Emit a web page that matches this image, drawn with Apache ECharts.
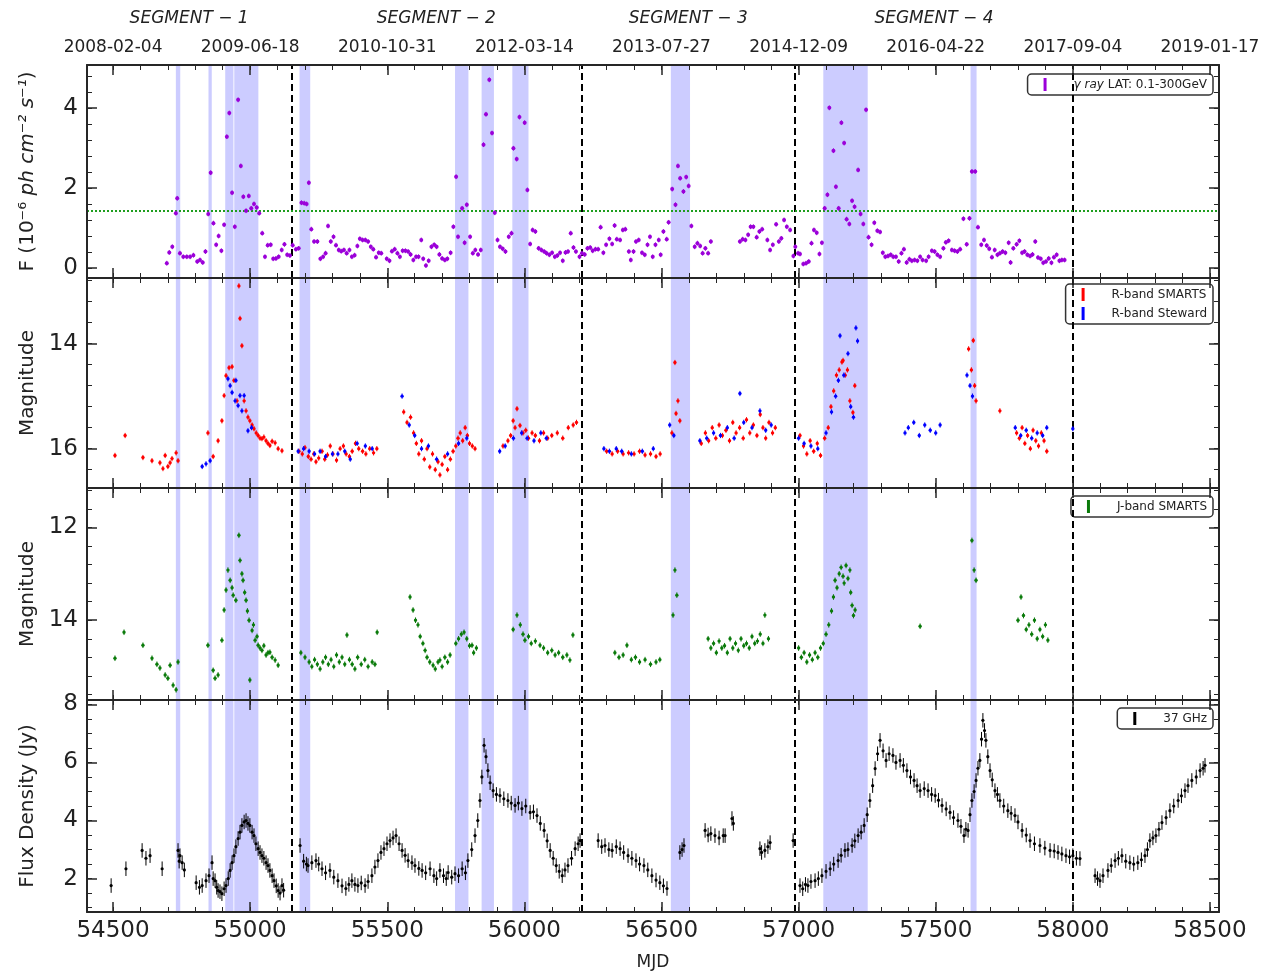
<!DOCTYPE html>
<html>
<head>
<meta charset="utf-8">
<script src="https://cdn.jsdelivr.net/npm/echarts@6/dist/echarts.min.js"></script>
<style>
  html, body { margin: 0; padding: 0; background: #fff; }
  #main { width: 1264px; height: 978px; }
</style>
</head>
<body>
<div id="main"></div>
<script>
// x range (MJD) and tick labels
const xMin = 54405;
const xMax = 58533;
const majorX = [54500, 55000, 55500, 56000, 56500, 57000, 57500, 58000, 58500];
const topDates = ['2008-02-04', '2009-06-18', '2010-10-31', '2012-03-14', '2013-07-27',
  '2014-12-09', '2016-04-22', '2017-09-04', '2019-01-17'];
const segNames = ['SEGMENT \u2212 1', 'SEGMENT \u2212 2', 'SEGMENT \u2212 3', 'SEGMENT \u2212 4'];
const segEdges = [54405, 55150, 56208, 56987, 58000];
const dashedX = [55150, 56208, 56987, 58000];
const shadeRanges = [[54729, 54745], [54848, 54860], [54909, 54939], [54942, 55030], [55180, 55219],
  [55747, 55796], [55844, 55889], [55956, 56015], [56534, 56604], [57090, 57252], [57627, 57649]];
const gammaThreshold = 1.42;

// gamma-ray flux (1e-6 ph cm-2 s-1)
const gammaData = [
  [54696,0.12],[54705,0.39],[54716,0.53],[54729,1.37],[54734,1.74],[54744,0.37],[54756,0.28],[54769,0.28],
  [54781,0.28],[54793,0.32],[54807,0.16],[54817,0.2],[54827,0.14],[54837,0.41],[54847,1.35],[54856,2.38],
  [54866,1.12],[54876,0.58],[54885,0.8],[54895,0.43],[54905,1.08],[54915,3.28],[54924,3.87],[54934,1.88],
  [54944,1.03],[54956,4.2],[54966,2.55],[54975,1.78],[54985,1.43],[54995,1.8],[55004,1.49],[55014,1.6],
  [55024,1.51],[55033,1.37],[55044,0.87],[55054,0.28],[55064,0.57],[55075,0.58],[55084,0.23],[55094,0.24],
  [55104,0.28],[55115,0.45],[55125,0.59],[55135,0.33],[55145,0.31],[55155,0.57],[55167,0.47],[55177,0.49],
  [55187,1.63],[55197,1.62],[55206,1.6],[55214,2.13],[55223,0.97],[55233,0.66],[55245,0.66],[55256,0.23],
  [55266,0.28],[55275,0.37],[55284,1.05],[55294,0.66],[55304,0.78],[55313,0.57],[55323,0.45],[55332,0.42],
  [55342,0.45],[55352,0.37],[55362,0.45],[55371,0.28],[55381,0.32],[55391,0.55],[55400,0.73],[55410,0.7],
  [55420,0.7],[55430,0.66],[55440,0.53],[55449,0.47],[55459,0.27],[55469,0.38],[55478,0.37],[55498,0.23],
  [55508,0.18],[55517,0.42],[55527,0.47],[55537,0.37],[55546,0.28],[55556,0.43],[55566,0.43],[55576,0.41],
  [55585,0.34],[55595,0.2],[55605,0.28],[55614,0.28],[55624,0.7],[55631,0.23],[55641,0.06],[55651,0.18],
  [55661,0.53],[55671,0.58],[55680,0.53],[55690,0.34],[55700,0.24],[55710,0.2],[55719,0.23],[55731,0.38],
  [55741,1.03],[55751,2.28],[55758,0.78],[55773,1.49],[55782,0.63],[55790,1.58],[55802,0.78],[55812,0.37],
  [55821,0.45],[55831,0.34],[55841,0.45],[55851,3.08],[55860,3.84],[55872,4.7],[55882,3.37],[55892,1.38],
  [55902,0.7],[55911,0.53],[55921,0.48],[55931,0.41],[55943,0.78],[55953,0.87],[55960,2.99],[55972,2.72],
  [55982,3.77],[56001,3.63],[56011,1.95],[56021,0.6],[56030,0.95],[56040,0.91],[56052,0.49],[56062,0.45],
  [56072,0.41],[56081,0.37],[56091,0.33],[56101,0.38],[56111,0.28],[56120,0.31],[56130,0.38],[56140,0.18],
  [56150,0.39],[56159,0.41],[56169,0.87],[56179,0.51],[56188,0.41],[56201,0.28],[56210,0.37],[56220,0.34],
  [56230,0.49],[56240,0.51],[56249,0.43],[56259,0.47],[56269,0.47],[56278,1.02],[56288,0.38],[56298,0.58],
  [56310,0.73],[56320,0.6],[56329,1.06],[56337,0.72],[56349,0.7],[56359,0.95],[56368,0.97],[56381,0.41],
  [56388,0.2],[56398,0.41],[56407,0.66],[56417,0.7],[56429,0.38],[56439,0.33],[56449,0.58],[56458,0.78],
  [56468,0.28],[56478,0.58],[56490,0.7],[56497,0.33],[56507,0.91],[56519,0.72],[56526,1.14],[56539,1.97],
  [56551,1.58],[56560,2.55],[56568,2.24],[56580,1.91],[56590,2.27],[56599,2.05],[56609,1.05],[56621,0.53],
  [56631,0.62],[56641,0.55],[56650,0.37],[56660,0.49],[56670,0.37],[56680,0.66],[56786,0.66],[56796,0.72],
  [56806,0.7],[56816,0.83],[56825,1.03],[56835,1.03],[56847,0.77],[56857,0.91],[56867,0.97],[56886,0.7],
  [56896,0.45],[56906,0.58],[56918,1.09],[56928,0.66],[56937,0.74],[56947,1.2],[56957,1.03],[56969,0.95],
  [56981,0.3],[56988,0.53],[56998,0.37],[57005,0.35],[57017,0.1],[57027,0.12],[57037,0.16],[57047,0.62],
  [57056,0.95],[57066,0.88],[57076,0.35],[57085,0.63],[57095,1.49],[57105,1.83],[57112,4.0],[57127,2.93],
  [57136,2.03],[57146,1.49],[57156,3.63],[57166,3.12],[57175,1.22],[57185,1.1],[57195,1.68],[57204,1.53],
  [57217,2.45],[57226,1.35],[57236,1.1],[57246,3.95],[57255,0.77],[57266,0.58],[57276,1.13],[57287,0.93],
  [57297,0.9],[57307,0.38],[57316,0.28],[57326,0.3],[57336,0.33],[57345,0.28],[57355,0.28],[57365,0.16],
  [57375,0.37],[57384,0.47],[57394,0.14],[57404,0.22],[57413,0.18],[57423,0.2],[57433,0.18],[57443,0.28],
  [57452,0.2],[57465,0.18],[57474,0.28],[57486,0.43],[57496,0.41],[57506,0.33],[57516,0.28],[57528,0.49],
  [57537,0.64],[57547,0.68],[57559,0.45],[57569,0.43],[57579,0.41],[57589,0.47],[57601,1.23],[57613,0.59],
  [57623,1.24],[57632,2.41],[57644,2.41],[57654,1.02],[57666,0.58],[57676,0.7],[57686,0.56],[57695,0.48],
  [57705,0.27],[57715,0.45],[57725,0.33],[57734,0.37],[57744,0.41],[57754,0.38],[57766,0.63],[57773,0.14],
  [57783,0.49],[57795,0.59],[57805,0.68],[57815,0.38],[57824,0.41],[57834,0.33],[57844,0.3],[57853,0.34],
  [57863,0.66],[57873,0.26],[57883,0.23],[57892,0.13],[57902,0.16],[57912,0.24],[57922,0.13],[57931,0.27],
  [57941,0.33],[57951,0.18],[57960,0.2],[57970,0.2]
];
const gammaErr = 0.06;

// R-band magnitudes
const smartsR = [
  [54507,16.13],[54544,15.75],[54609,16.17],[54642,16.23],[54671,16.27],[54682,16.38],[54690,16.13],[54700,16.34],
  [54708,16.27],[54715,16.19],[54730,16.08],[54737,16.23],[54846,15.7],[54865,16.15],[54883,15.85],[54897,15.47],
  [54905,14.99],[54912,14.61],[54923,14.46],[54934,14.44],[54941,14.7],[54952,15.09],[54959,12.9],[54963,13.52],
  [54970,14.04],[54978,15.09],[54985,15.28],[54992,15.4],[54999,15.47],[55007,15.55],[55014,15.62],[55022,15.7],
  [55029,15.75],[55036,15.8],[55043,15.81],[55050,15.78],[55058,15.85],[55065,15.9],[55072,15.94],[55080,15.86],
  [55091,15.89],[55102,16.0],[55116,16.04],
  [55178,16.05],[55190,16.1],[55200,15.98],[55212,16.15],[55222,16.2],[55232,16.1],[55240,16.25],[55250,16.18],
  [55262,16.05],[55272,16.2],[55282,16.12],[55292,15.95],[55302,16.1],[55315,16.22],[55328,16.0],[55340,15.95],
  [55350,16.1],[55362,16.15],[55372,16.05],[55384,15.9],[55396,16.0],[55410,16.05],[55422,16.1],[55436,16.0],
  [55450,16.08],[55462,16.0],[55560,15.3],[55572,15.5],[55585,15.4],[55596,15.7],[55606,15.9],[55615,16.1],
  [55625,15.85],[55635,16.2],[55645,16.0],[55655,16.35],[55665,16.1],[55675,16.4],[55685,16.25],[55692,16.5],
  [55700,16.3],[55710,16.15],[55720,16.4],[55730,16.2],[55740,16.05],[55750,15.95],[55758,15.8],[55766,15.7],
  [55775,15.85],[55784,15.6],[55792,15.75],[55800,15.9],[55810,15.95],[55820,16.0],
  [55922,15.95],[55940,15.85],[55950,15.75],[55959,15.47],[55966,15.6],[55973,15.24],[55984,15.56],[55995,15.7],
  [56005,15.65],[56015,15.8],[56028,15.7],[56040,15.75],[56055,15.85],[56070,15.7],[56085,15.8],[56100,15.75],
  [56120,15.7],[56140,15.8],[56160,15.6],[56178,15.55],[56190,15.5],
  [56300,16.05],[56320,16.1],[56340,16.05],[56360,16.1],[56380,16.08],[56400,16.1],[56420,16.05],[56440,16.12],
  [56460,16.1],[56480,16.15],[56495,16.1],[56538,15.7],[56549,14.36],[56553,15.33],[56560,15.09],[56567,15.47],
  [56645,15.9],[56660,15.7],[56672,15.85],[56685,15.6],[56698,15.8],[56710,15.55],[56722,15.75],[56735,15.65],
  [56748,15.85],[56760,15.5],[56772,15.7],[56785,15.6],[56798,15.8],[56810,15.45],[56822,15.7],[56835,15.55],
  [56848,15.75],[56860,15.35],[56870,15.6],[56880,15.8],[56892,15.5],[56905,15.7],[56915,15.6],
  [57005,15.75],[57018,15.95],[57030,16.1],[57042,15.85],[57055,16.05],[57068,15.9],[57080,16.13],[57095,15.8],
  [57108,15.6],[57118,15.2],[57128,14.9],[57138,14.6],[57148,14.5],[57158,14.35],[57162,14.32],[57170,14.6],
  [57178,14.5],[57187,15.09],[57198,15.31],[57205,14.8],
  [57620,14.1],[57630,14.5],[57637,13.94],[57642,14.8],[57647,15.09],[57734,15.28],
  [57795,15.7],[57805,15.8],[57815,15.6],[57825,15.9],[57835,15.75],[57845,16.0],[57855,15.65],[57865,15.85],
  [57875,15.95],[57885,15.7],[57895,15.85],[57905,16.05]
];
const stewardR = [
  [54825,16.34],[54839,16.29],[54854,16.23],[54919,14.67],[54927,14.8],[54934,14.93],[54945,15.09],[54948,14.7],
  [54956,15.18],[54963,14.99],[54970,15.28],[54978,14.99],[54992,15.66],[55005,15.6],
  [55175,16.05],[55195,16.0],[55215,16.05],[55235,16.1],[55255,16.05],[55275,16.15],[55300,16.1],[55320,16.1],
  [55345,16.05],[55365,16.2],[55390,15.9],[55420,15.95],[55445,16.0],[55554,15.0],[55580,15.55],[55600,15.75],
  [55625,16.0],[55650,15.95],[55680,16.2],[55720,16.1],[55760,15.9],[55790,15.8],[55910,16.05],[55930,15.95],
  [55960,15.8],[55990,15.7],[56010,15.8],[56035,15.85],[56060,15.7],[56080,15.8],
  [56290,16.0],[56310,16.05],[56335,16.0],[56355,16.05],[56390,16.1],[56430,16.05],[56470,16.0],[56530,15.55],
  [56545,15.75],[56640,15.85],[56665,15.8],[56690,15.7],[56715,15.75],[56740,15.6],[56765,15.8],[56786,14.95],
  [56800,15.5],[56830,15.6],[56859,15.28],[56880,15.65],[56900,15.55],
  [57000,15.8],[57020,15.9],[57045,15.95],[57070,16.0],[57100,15.7],[57120,15.3],[57135,15.0],[57145,14.7],
  [57151,13.85],[57165,14.6],[57180,14.19],[57190,15.2],[57200,15.4],[57209,13.7],[57215,13.95],
  [57388,15.7],[57400,15.6],[57420,15.5],[57440,15.75],[57460,15.55],[57480,15.65],[57500,15.7],[57516,15.55],
  [57614,14.6],[57625,14.8],[57634,15.0],[57790,15.6],[57810,15.75],[57830,15.65],[57850,15.8],[57870,15.7],
  [57890,15.75],[57905,15.6],[58000,15.62]
];
const rErr = 0.05;

// J-band magnitudes
const smartsJ = [
  [54507,14.82],[54540,14.26],[54609,14.54],[54642,14.82],[54660,14.95],[54671,15.03],[54690,15.18],[54700,15.25],
  [54708,14.97],[54719,15.4],[54730,15.5],[54737,14.9],[54846,14.54],[54865,15.08],[54872,15.25],[54883,15.18],
  [54897,14.43],[54905,13.78],[54912,13.35],[54919,12.92],[54927,13.14],[54934,13.3],[54938,13.46],[54948,13.57],
  [54959,12.17],[54963,12.71],[54970,13.0],[54974,13.14],[54980,13.4],[54985,13.57],[54990,13.8],[54996,14.0],
  [54999,15.29],[55007,14.22],[55012,14.1],[55018,14.43],[55025,14.35],[55029,14.54],[55036,14.6],[55043,14.65],
  [55050,14.55],[55058,14.75],[55065,14.7],[55072,14.69],[55080,14.8],[55091,14.86],[55102,14.97],
  [55185,14.7],[55200,14.8],[55215,14.9],[55225,15.0],[55235,14.85],[55245,14.95],[55255,15.05],[55265,14.9],
  [55275,14.8],[55285,14.95],[55295,14.85],[55305,15.0],[55315,14.75],[55325,14.9],[55335,14.8],[55345,14.95],
  [55353,14.32],[55362,14.85],[55372,14.95],[55382,15.05],[55392,14.8],[55405,14.95],[55418,14.85],[55430,15.0],
  [55445,14.9],[55455,14.95],[55463,14.26],[55583,13.5],[55594,13.78],[55603,14.0],[55612,14.1],[55620,14.35],
  [55630,14.5],[55638,14.65],[55645,14.8],[55655,14.9],[55667,14.97],[55675,15.05],[55685,14.9],[55692,14.86],
  [55700,15.0],[55710,14.8],[55720,14.9],[55729,14.75],[55750,14.5],[55760,14.4],[55770,14.3],[55780,14.26],
  [55790,14.4],[55800,14.55],[55809,14.54],[55815,14.7],[55825,14.6],
  [55959,14.2],[55973,13.89],[55985,14.1],[55995,14.3],[56002,14.43],[56015,14.35],[56025,14.5],[56040,14.45],
  [56057,14.54],[56070,14.6],[56085,14.7],[56100,14.65],[56112,14.75],[56125,14.7],[56140,14.8],[56155,14.75],
  [56166,14.86],[56177,14.32],
  [56330,14.7],[56345,14.8],[56360,14.75],[56374,14.54],[56390,14.85],[56405,14.8],[56420,14.9],[56440,14.85],
  [56460,14.95],[56480,14.9],[56494,14.85],[56542,13.89],[56549,12.92],[56556,13.46],
  [56670,14.4],[56680,14.6],[56690,14.5],[56700,14.7],[56710,14.45],[56720,14.6],[56730,14.55],[56740,14.7],
  [56750,14.4],[56760,14.6],[56770,14.5],[56780,14.65],[56790,14.4],[56800,14.55],[56810,14.5],[56820,14.6],
  [56830,14.35],[56840,14.5],[56850,14.45],[56860,14.3],[56870,14.5],[56877,13.89],[56890,14.4],
  [57000,14.6],[57010,14.8],[57020,14.7],[57030,14.9],[57040,14.75],[57050,14.85],[57060,14.7],[57070,14.8],
  [57080,14.6],[57090,14.5],[57100,14.3],[57110,14.1],[57120,13.8],[57127,13.5],[57133,13.14],[57140,13.3],
  [57148,13.0],[57155,12.86],[57162,13.05],[57166,13.2],[57173,12.82],[57180,13.1],[57187,12.92],[57190,13.4],
  [57195,13.68],[57200,13.9],[57206,13.78],[57443,14.13],[57632,12.28],[57640,12.92],[57647,13.14],
  [57800,14.0],[57811,13.5],[57820,13.9],[57830,14.2],[57840,14.1],[57850,14.3],[57860,14.0],[57870,14.4],
  [57880,14.2],[57890,14.35],[57900,14.1],[57909,14.43]
];
const jErr = 0.06;

// 37 GHz flux density (Jy)
const radio37 = [
  [54493,1.76],[54547,2.34],[54606,2.97],[54620,2.7],[54635,2.79],[54679,2.34],[54737,2.97],[54741,2.6],
  [54744,2.79],[54752,2.55],[54760,2.3],[54803,1.86],[54815,1.7],[54825,1.76],[54839,1.93],[54850,2.1],
  [54861,2.55],[54865,2.0],[54872,1.93],[54878,1.7],[54883,1.59],[54890,1.55],[54897,1.48],[54905,1.65],
  [54912,1.76],[54920,2.0],[54927,2.28],[54934,2.55],[54941,2.79],[54948,3.1],[54956,3.38],[54963,3.6],
  [54970,3.83],[54978,3.95],[54985,4.0],[54992,3.9],[54999,3.83],[55007,3.6],[55014,3.48],[55021,3.2],
  [55029,3.03],[55036,2.9],[55043,2.79],[55050,2.7],[55058,2.55],[55065,2.45],[55072,2.28],[55080,2.1],
  [55087,1.93],[55095,1.75],[55102,1.59],[55109,1.5],[55116,1.76],[55122,1.6],
  [55182,3.14],[55195,2.6],[55205,2.5],[55211,2.45],[55225,2.55],[55240,2.62],[55250,2.5],[55262,2.34],
  [55275,2.2],[55291,2.28],[55305,2.05],[55320,1.93],[55335,1.75],[55349,1.66],[55360,1.8],[55371,1.93],
  [55382,1.8],[55393,1.76],[55405,1.85],[55419,1.76],[55430,1.9],[55444,2.1],[55455,2.4],[55466,2.62],
  [55477,2.9],[55488,3.03],[55499,3.2],[55510,3.31],[55521,3.4],[55532,3.48],[55543,3.2],[55554,2.97],
  [55565,2.8],[55576,2.62],[55590,2.55],[55601,2.45],[55615,2.35],[55627,2.28],[55640,2.2],[55656,2.34],
  [55670,2.1],[55680,2.0],[55692,2.28],[55705,2.1],[55715,2.0],[55722,2.21],[55735,2.05],[55747,2.17],
  [55760,2.1],[55773,2.34],[55785,2.2],[55794,2.62],[55808,3.0],[55820,3.48],[55830,4.0],[55838,4.69],
  [55845,5.5],[55853,6.59],[55860,6.2],[55867,5.72],[55875,5.3],[55886,5.03],[55898,4.9],[55911,4.86],
  [55925,4.75],[55940,4.69],[55952,4.6],[55966,4.52],[55978,4.6],[55991,4.41],[56005,4.5],[56021,4.28],
  [56033,4.3],[56046,4.17],[56058,3.9],[56072,3.66],[56083,3.3],[56094,2.97],[56105,2.7],[56116,2.45],
  [56127,2.25],[56138,2.1],[56148,2.3],[56159,2.45],[56172,2.7],[56185,3.03],[56196,3.2],[56203,3.31],
  [56269,3.31],[56282,3.1],[56294,3.14],[56308,3.0],[56320,2.97],[56335,3.1],[56349,3.03],[56362,2.9],
  [56378,2.79],[56392,2.7],[56407,2.62],[56420,2.5],[56436,2.45],[56450,2.3],[56465,2.1],[56480,1.95],
  [56494,1.86],[56507,1.75],[56520,1.66],[56567,2.9],[56575,3.0],[56582,3.14],[56659,3.66],[56670,3.5],
  [56680,3.55],[56695,3.48],[56710,3.4],[56725,3.48],[56732,3.48],[56757,4.07],[56762,3.9],[56859,3.03],
  [56865,2.9],[56877,2.97],[56888,3.1],[56896,3.24],[56980,3.31],
  [57005,1.76],[57015,1.65],[57025,1.8],[57034,1.76],[57045,1.9],[57060,1.93],[57072,2.0],[57085,2.1],
  [57100,2.25],[57115,2.34],[57128,2.5],[57144,2.62],[57155,2.8],[57169,2.97],[57180,3.0],[57195,3.14],
  [57205,3.3],[57217,3.48],[57228,3.6],[57239,3.83],[57250,4.2],[57260,4.69],[57270,5.2],[57279,5.79],
  [57288,6.3],[57297,6.76],[57308,6.4],[57319,6.07],[57330,6.3],[57344,6.24],[57355,6.0],[57370,6.07],
  [57382,5.9],[57395,5.72],[57408,5.5],[57421,5.38],[57432,5.2],[57443,5.03],[57458,5.1],[57472,5.03],
  [57485,4.9],[57498,4.86],[57510,4.7],[57523,4.52],[57538,4.4],[57552,4.28],[57565,4.1],[57581,4.0],
  [57592,3.8],[57603,3.48],[57610,3.7],[57618,3.66],[57625,4.2],[57632,4.69],[57640,5.0],[57647,5.38],
  [57654,5.8],[57661,6.07],[57667,6.8],[57672,7.45],[57678,7.1],[57683,6.76],[57690,6.2],[57698,5.72],
  [57706,5.4],[57716,5.03],[57725,4.9],[57734,4.69],[57748,4.5],[57763,4.34],[57775,4.25],[57789,4.17],
  [57800,3.95],[57815,3.66],[57830,3.5],[57844,3.31],[57860,3.2],[57880,3.14],[57898,3.05],[57917,2.97],
  [57932,2.95],[57946,2.9],[57960,2.85],[57975,2.79],[57988,2.75],[58000,2.79],[58013,2.7],[58026,2.69],
  [58081,2.1],[58090,2.0],[58099,1.93],[58110,2.1],[58128,2.28],[58140,2.45],[58154,2.62],[58166,2.7],
  [58179,2.79],[58193,2.6],[58208,2.55],[58222,2.5],[58237,2.55],[58250,2.65],[58263,2.79],[58272,3.0],
  [58281,3.31],[58292,3.4],[58303,3.48],[58314,3.7],[58325,3.93],[58340,4.1],[58354,4.34],[58368,4.5],
  [58384,4.69],[58396,4.85],[58409,5.03],[58420,5.2],[58434,5.38],[58450,5.5],[58464,5.72],[58475,5.8],
  [58482,5.9]
];
const radioErr = 0.25;

// y axes of the four panels
const panels = [
  { min: -0.25, max: 5.07, inverse: false, major: [0, 2, 4], minorStep: 0.4, minorFrom: 0, minorTo: 4.8,
    name: 'F (10\u207B\u2076 {i|ph cm\u207B\u00B2 s\u207B\u00B9})' },
  { min: 12.75, max: 16.75, inverse: true, major: [14, 16], minorStep: 0.4, minorFrom: 12.8, minorTo: 16.4,
    name: 'Magnitude' },
  { min: 11.15, max: 15.72, inverse: true, major: [12, 14], minorStep: 0.4, minorFrom: 11.2, minorTo: 15.6,
    name: 'Magnitude' },
  { min: 0.85, max: 8.15, inverse: false, major: [2, 4, 6, 8], minorStep: 0.5, minorFrom: 1, minorTo: 8,
    name: 'Flux Density (Jy)' }
];
const gridTops = [65, 278, 488, 700];
const gridHeights = [213, 210, 212, 212];

const font = 'DejaVu Sans';
const frame = '#262626';
const shade = 'rgba(0,0,255,0.2)';

function steps(a, b, s) {
  const out = [];
  for (let v = a; v <= b + 1e-9; v += s) out.push(Math.round(v * 100) / 100);
  return out;
}
const minorX = steps(54500, 58500, 100);
const segCenters = segNames.map((_, i) => (segEdges[i] + segEdges[i + 1]) / 2);

const grid = gridTops.map((t, i) => ({ left: 87, right: 45, top: t, height: gridHeights[i] }));

const xAxis = [];
const yAxis = [];
for (let gi = 0; gi < 4; gi++) {
  ['bottom', 'top'].forEach((pos) => {
    let label = { show: false };
    if (pos === 'bottom' && gi === 3) {
      label = { show: true, customValues: majorX, fontSize: 23, color: '#222', fontFamily: font, margin: 8,
        formatter: (v) => String(v) };
    }
    if (pos === 'top' && gi === 0) {
      label = { show: true, customValues: majorX, fontSize: 17, color: '#222', fontFamily: font, margin: 9,
        formatter: (v) => topDates[majorX.indexOf(v)] };
    }
    const major = {
      type: 'value', gridIndex: gi, position: pos, min: xMin, max: xMax, z: 10,
      splitLine: { show: false },
      axisLine: { show: true, onZero: false, lineStyle: { color: frame, width: 2 } },
      axisTick: { show: true, inside: true, length: 10, customValues: majorX, lineStyle: { color: frame, width: 1.5 } },
      axisLabel: label
    };
    if (pos === 'bottom' && gi === 3) {
      major.name = 'MJD';
      major.nameLocation = 'middle';
      major.nameGap = 42;
      major.nameTextStyle = { fontSize: 17, color: '#222', fontFamily: font };
    }
    xAxis.push(major);
    xAxis.push({
      type: 'value', gridIndex: gi, position: pos, min: xMin, max: xMax, z: 10,
      splitLine: { show: false },
      axisLine: { show: false, onZero: false },
      axisTick: { show: true, inside: true, length: 5, customValues: minorX, lineStyle: { color: frame, width: 1 } },
      axisLabel: { show: false }
    });
  });

  const p = panels[gi];
  const minorY = steps(p.minorFrom, p.minorTo, p.minorStep);
  ['left', 'right'].forEach((pos) => {
    const major = {
      type: 'value', gridIndex: gi, position: pos, min: p.min, max: p.max, inverse: p.inverse, z: 10,
      splitLine: { show: false },
      axisLine: { show: true, onZero: false, lineStyle: { color: frame, width: 2 } },
      axisTick: { show: true, inside: true, length: 10, customValues: p.major, lineStyle: { color: frame, width: 1.5 } },
      axisLabel: pos === 'left'
        ? { show: true, customValues: p.major, fontSize: 23, color: '#222', fontFamily: font, margin: 9 }
        : { show: false }
    };
    if (pos === 'left') {
      major.name = p.name;
      major.nameLocation = 'middle';
      major.nameGap = 49;
      major.nameTextStyle = { fontSize: 20, color: '#222', fontFamily: font,
        rich: { i: { fontSize: 20, fontStyle: 'italic', color: '#222', fontFamily: font } } };
    }
    yAxis.push(major);
    yAxis.push({
      type: 'value', gridIndex: gi, position: pos, min: p.min, max: p.max, inverse: p.inverse, z: 10,
      splitLine: { show: false },
      axisLine: { show: false, onZero: false },
      axisTick: { show: true, inside: true, length: 5, customValues: minorY, lineStyle: { color: frame, width: 1 } },
      axisLabel: { show: false }
    });
  });
}
// segment names above the top date labels
xAxis.push({
  type: 'value', gridIndex: 0, position: 'top', min: xMin, max: xMax,
  splitLine: { show: false }, axisLine: { show: false, onZero: false }, axisTick: { show: false },
  axisLabel: { show: true, customValues: segCenters, margin: 38, fontSize: 17, fontStyle: 'italic',
    color: '#222', fontFamily: font, formatter: (v) => segNames[segCenters.indexOf(v)] }
});

function errSeries(name, data, err, color, r, gi) {
  return {
    name, type: 'custom', xAxisIndex: gi * 4, yAxisIndex: gi * 4, z: 5, clip: true,
    itemStyle: { color },
    encode: { x: 0, y: 1 },
    data: data.map((d) => [d[0], d[1], err]),
    renderItem: (params, api) => {
      const x = api.value(0);
      const y = api.value(1);
      const e = api.value(2);
      const c = api.coord([x, y]);
      const lo = api.coord([x, y - e]);
      const hi = api.coord([x, y + e]);
      return {
        type: 'group',
        children: [
          { type: 'line', shape: { x1: c[0], y1: lo[1], x2: c[0], y2: hi[1] }, style: { stroke: color, lineWidth: 1 } },
          { type: 'circle', shape: { cx: c[0], cy: c[1], r }, style: { fill: color } }
        ]
      };
    }
  };
}

function decoSeries(gi) {
  const lines = dashedX.map((v) => ({ xAxis: v }));
  if (gi === 0) {
    lines.push({ yAxis: gammaThreshold, lineStyle: { color: '#1f9e1f', type: [2, 2], width: 2 } });
  }
  return {
    type: 'line', xAxisIndex: gi * 4, yAxisIndex: gi * 4, data: [], z: 1, silent: true,
    markArea: { silent: true, itemStyle: { color: shade }, data: shadeRanges.map((r) => [{ xAxis: r[0] }, { xAxis: r[1] }]) },
    markLine: { silent: true, symbol: ['none', 'none'], label: { show: false },
      lineStyle: { color: '#000', type: [7, 4], width: 2 }, data: lines }
  };
}

const gammaName = 'gamma ray LAT';
const legendBase = {
  orient: 'vertical', icon: 'rect', itemWidth: 3, itemHeight: 13, itemGap: 6,
  borderColor: '#333', borderWidth: 1.5, borderRadius: 4, padding: [4, 6, 4, 16],
  textStyle: { fontSize: 12, color: '#222', fontFamily: font, padding: [0, 0, 0, 22],
    rich: { i: { fontSize: 12, fontStyle: 'italic', color: '#222', fontFamily: font } } }
};

const option = {
  animation: false,
  backgroundColor: '#fff',
  grid,
  xAxis,
  yAxis,
  legend: [
    Object.assign({}, legendBase, { data: [gammaName], right: 51, top: 74,
      formatter: () => '{i|\u03B3 ray} LAT: 0.1-300GeV' }),
    Object.assign({}, legendBase, { data: ['R-band SMARTS', 'R-band Steward'], right: 51, top: 284 }),
    Object.assign({}, legendBase, { data: ['J-band SMARTS'], right: 51, top: 496 }),
    Object.assign({}, legendBase, { data: ['37 GHz'], right: 51, top: 708 })
  ],
  series: [
    decoSeries(0), decoSeries(1), decoSeries(2), decoSeries(3),
    errSeries(gammaName, gammaData, gammaErr, '#9b00d9', 2.0, 0),
    errSeries('R-band SMARTS', smartsR, rErr, '#ff0000', 1.7, 1),
    errSeries('R-band Steward', stewardR, rErr, '#0000ff', 1.7, 1),
    errSeries('J-band SMARTS', smartsJ, jErr, '#0a7a0a', 1.7, 2),
    errSeries('37 GHz', radio37, radioErr, '#000000', 1.6, 3)
  ]
};

const chart = echarts.init(document.getElementById('main'));
chart.setOption(option);
</script>
</body>
</html>
